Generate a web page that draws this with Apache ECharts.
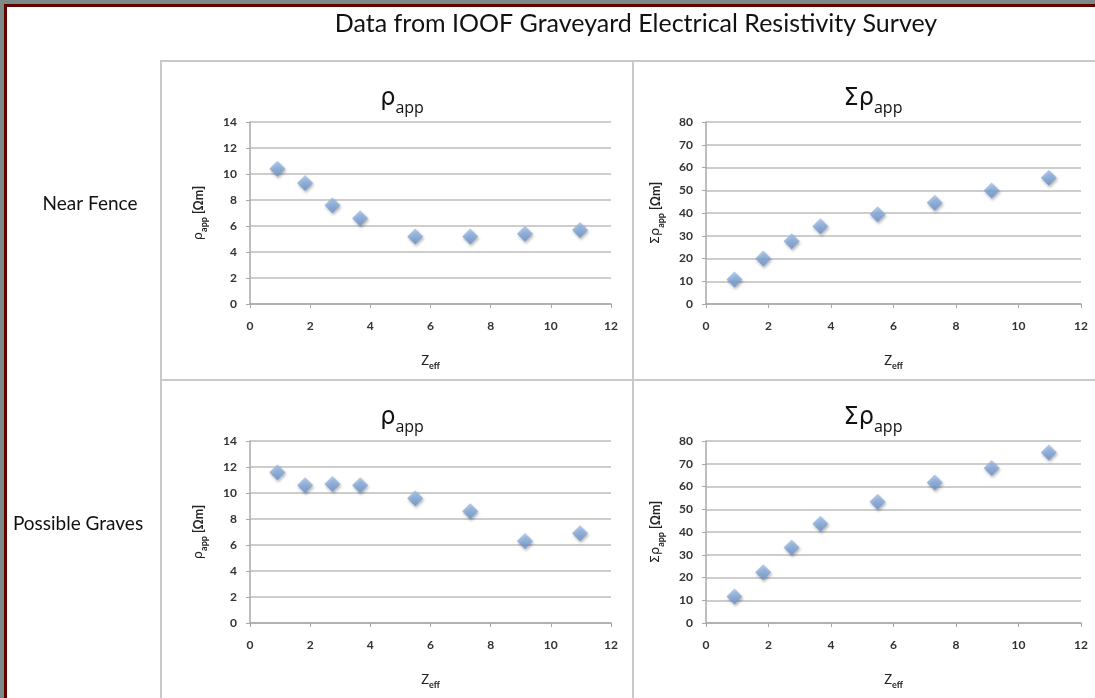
<!DOCTYPE html>
<html>
<head>
<meta charset="utf-8">
<script src="https://cdn.jsdelivr.net/npm/echarts@6/dist/echarts.min.js"></script>
<style>
html,body{margin:0;padding:0;background:#7b8a86;}
#c{width:1095px;height:698px;}
</style>
</head>
<body>
<div id="c"></div>
<script>
// ---- data ----
const zeff = [0.91, 1.83, 2.74, 3.66, 5.49, 7.32, 9.14, 10.97];
const nearFenceRho = [10.4, 9.3, 7.6, 6.6, 5.2, 5.2, 5.4, 5.7];
const nearFenceSum = [10.8, 20.0, 27.6, 34.2, 39.4, 44.5, 49.9, 55.5];
const gravesRho = [11.6, 10.6, 10.7, 10.6, 9.6, 8.6, 6.3, 6.9];
const gravesSum = [11.7, 22.3, 33.2, 43.6, 53.3, 61.8, 68.1, 75.0];
const rowLabels = ['Near Fence', 'Possible Graves'];
const mainTitle = 'Data from IOOF Graveyard Electrical Resistivity Survey';

const pair = (ys) => zeff.map((x, i) => [x, ys[i]]);

const chart = echarts.init(document.getElementById('c'), null, {renderer: 'canvas'});

const FONT = 'Lato';
const gridCol = '#bcbcbc';

const grids = [
  {left: 250, top: 122, width: 361, height: 182},
  {left: 706, top: 122, width: 375, height: 182},
  {left: 250, top: 441, width: 361, height: 182},
  {left: 706, top: 441, width: 375, height: 182}
];

const subRich = {
  r: {fontFamily: 'DejaVu Sans', fontSize: 13, color: '#222', fontWeight: 'normal'},
  s: {fontFamily: FONT, fontSize: 9, color: '#222', fontWeight: 'bold', verticalAlign: 'bottom', padding: [0, 0, -4, 0]},
  n: {fontFamily: FONT, fontSize: 12.5, color: '#222', fontWeight: 'bold'}
};

function xAxis(i) {
  return {
    type: 'value', gridIndex: i, min: 0, max: 12, interval: 2,
    name: '{z|Z}{s|eff}', nameLocation: 'middle', nameGap: 50,
    nameTextStyle: {rich: {
      z: {fontFamily: FONT, fontSize: 13, color: '#222'},
      s: {fontFamily: FONT, fontSize: 9, color: '#222', fontWeight: 'bold', verticalAlign: 'bottom', padding: [0, 0, -4, 0]}
    }},
    axisLine: {show: true, lineStyle: {color: '#a8a8a8', width: 1.5}},
    axisTick: {show: true, length: 4, lineStyle: {color: '#a8a8a8'}},
    axisLabel: {margin: 16, fontFamily: FONT, fontSize: 12, fontWeight: 'bold', color: '#333'},
    splitLine: {show: false}
  };
}
function yAxis(i, max, interval, sum) {
  return {
    type: 'value', gridIndex: i, min: 0, max: max, interval: interval,
    name: (sum ? '{r|Σρ}' : '{r|ρ}') + '{s|app}{n| [Ωm]}',
    nameLocation: 'middle', nameGap: sum ? 44 : 45, nameRotate: 90,
    nameTextStyle: {rich: subRich},
    axisLine: {show: true, lineStyle: {color: '#a8a8a8', width: 1.5}},
    axisTick: {show: true, length: 4, lineStyle: {color: '#a8a8a8'}},
    axisLabel: {margin: 13, fontFamily: FONT, fontSize: 12, fontWeight: 'bold', color: '#333'},
    splitLine: {show: true, lineStyle: {color: gridCol, width: 1.5}}
  };
}

const markerStyle = {
  color: new echarts.graphic.LinearGradient(0, 0, 0, 1, [
    {offset: 0, color: '#a2c0e8'},
    {offset: 1, color: '#6591cc'}
  ]),
  shadowColor: 'rgba(0,0,0,0.35)', shadowBlur: 3, shadowOffsetX: 1, shadowOffsetY: 2
};

function series(i, ys) {
  return {
    type: 'scatter', xAxisIndex: i, yAxisIndex: i,
    symbol: 'diamond', symbolSize: 16,
    itemStyle: markerStyle, data: pair(ys), silent: true
  };
}

const panelTitle = (sum, left, top) => ({
  text: (sum ? '{r|Σρ}' : '{r|ρ}') + '{s|app}',
  left: left, top: top, textAlign: 'center',
  textStyle: {fontWeight: 'normal', rich: {
    r: {fontFamily: 'DejaVu Sans', fontSize: 24, fontWeight: 'normal', color: '#111'},
    s: {fontFamily: 'Open Sans', fontSize: 16, fontWeight: 'normal', color: '#111', verticalAlign: 'bottom', padding: [0, 0, -5, 0]}
  }}
});

const borderLine = {stroke: '#c9c9c9', lineWidth: 2};

const option = {
  backgroundColor: '#7b8a86',
  animation: false,
  title: [
    {text: mainTitle, left: 631, top: 6, textAlign: 'center',
     textStyle: {fontFamily: FONT, fontSize: 25, fontWeight: 'normal', color: '#111'}},
    {text: rowLabels[0], left: 85, top: 189, textAlign: 'center',
     textStyle: {fontFamily: FONT, fontSize: 19, fontWeight: 'normal', color: '#111'}},
    {text: rowLabels[1], left: 73, top: 509, textAlign: 'center',
     textStyle: {fontFamily: FONT, fontSize: 19, fontWeight: 'normal', color: '#111'}},
    panelTitle(false, 397, 82),
    panelTitle(true, 868, 82),
    panelTitle(false, 397, 401),
    panelTitle(true, 868, 401)
  ],
  graphic: [
    {type: 'rect', z: -10, shape: {x: 4, y: 4, width: 1200, height: 800}, style: {fill: '#600000'}},
    {type: 'rect', z: -9, shape: {x: 7, y: 7, width: 1200, height: 800}, style: {fill: '#ffffff'}},
    {type: 'polyline', z: -8, shape: {points: [[161, 700], [161, 61], [1100, 61]]}, style: Object.assign({fill: null}, borderLine)},
    {type: 'line', z: -8, shape: {x1: 633, y1: 61, x2: 633, y2: 700}, style: borderLine},
    {type: 'line', z: -8, shape: {x1: 161, y1: 380, x2: 1100, y2: 380}, style: borderLine}
  ],
  grid: grids,
  xAxis: [xAxis(0), xAxis(1), xAxis(2), xAxis(3)],
  yAxis: [yAxis(0, 14, 2, false), yAxis(1, 80, 10, true), yAxis(2, 14, 2, false), yAxis(3, 80, 10, true)],
  series: [series(0, nearFenceRho), series(1, nearFenceSum), series(2, gravesRho), series(3, gravesSum)]
};
chart.setOption(option);
</script>
</body>
</html>
